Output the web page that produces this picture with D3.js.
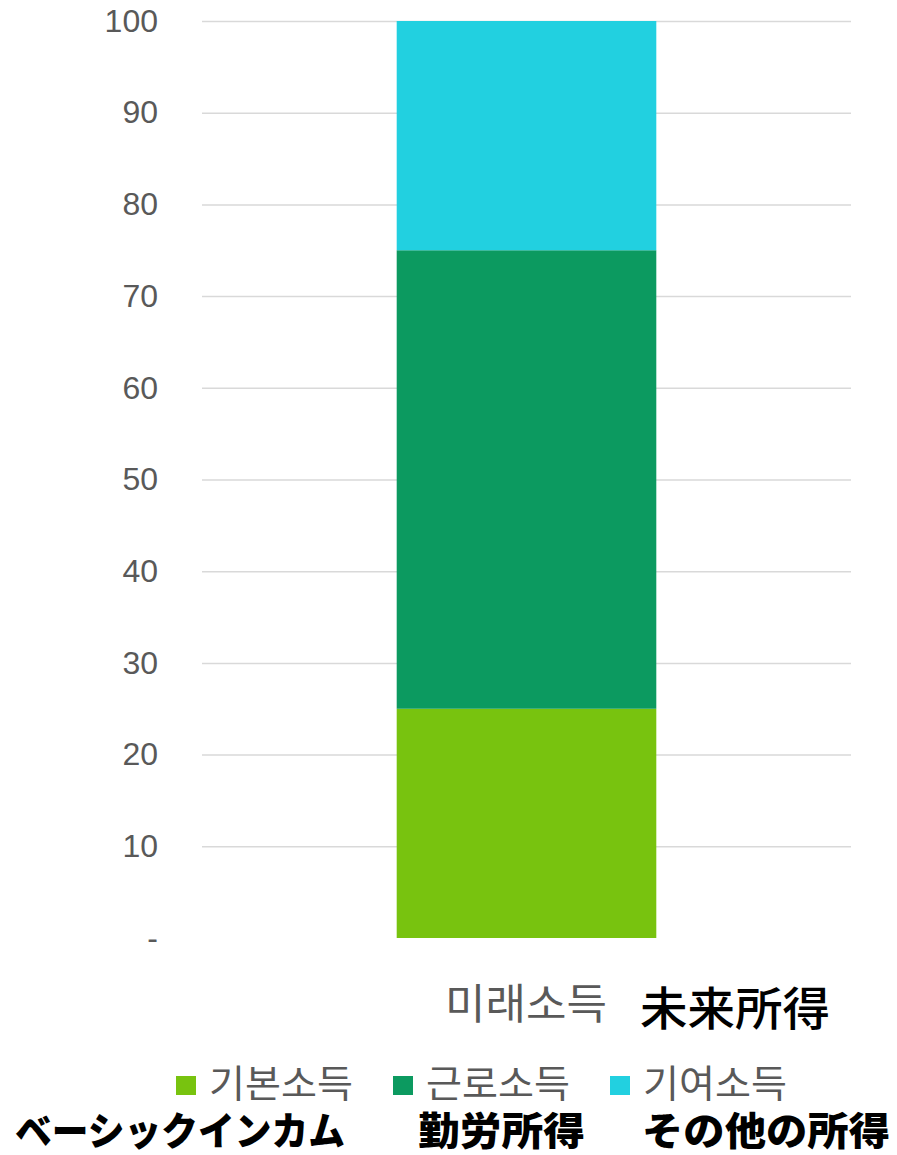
<!DOCTYPE html>
<html><head><meta charset="utf-8">
<script src="https://cdn.jsdelivr.net/npm/d3@7"></script>
<style>body{margin:0;background:#fff}svg{display:block}</style>
</head><body>
<svg id="c" width="897" height="1155"></svg>
<script>
const categories = ["미래소득"];
const categoryJa = ["未来所得"];
const seriesNames = ["기본소득", "근로소득", "기여소득"];
const seriesJa = ["ベーシックインカム", "勤労所得", "その他の所得"];
const seriesColors = ["#78C30F", "#0C9A60", "#22D0E0"];
const basicIncome = [25];
const laborIncome = [50];
const contribIncome = [25];
const yTicks = [0, 10, 20, 30, 40, 50, 60, 70, 80, 90, 100];

const svg = d3.select("#c");
const M = {left: 202, right: 851, top: 21, bottom: 938};
const x = d3.scaleBand().domain(categories).range([M.left, M.right]).paddingInner(0.6).paddingOuter(0.3);
const y = d3.scaleLinear().domain([0, 100]).range([M.bottom, M.top]);

const data = categories.map((c, i) => ({cat: c, s0: basicIncome[i], s1: laborIncome[i], s2: contribIncome[i]}));
const stack = d3.stack().keys(["s0", "s1", "s2"])(data);

// gridlines + tick labels
const yAxis = d3.axisLeft(y).tickValues(yTicks).tickSize(-(M.right - M.left)).tickPadding(44)
  .tickFormat(d => d === 0 ? "-" : d);
const g = svg.append("g").attr("transform", `translate(${M.left},0)`).call(yAxis);
g.select(".domain").remove();
g.selectAll(".tick line").attr("stroke", d => d === 0 ? "none" : "#d9d9d9").attr("stroke-width", 1.5);
g.selectAll(".tick text").attr("fill", "#595959").attr("font-size", 32)
  .attr("font-family", "'Liberation Sans', 'DejaVu Sans', sans-serif");

// bars
svg.append("g").selectAll("g").data(stack).join("g")
  .attr("fill", (d, i) => seriesColors[i])
  .selectAll("rect").data(d => d).join("rect")
  .attr("x", d => x(d.data.cat))
  .attr("width", x.bandwidth())
  .attr("y", d => y(d[1]))
  .attr("height", d => y(d[0]) - y(d[1]));

// category label
categories.forEach((c, i) => {
  svg.append("text").attr("x", 445).attr("y", 1019)
    .attr("fill", "#595959").attr("font-size", 42)
    .attr("textLength", 162).attr("lengthAdjust", "spacingAndGlyphs")
    .attr("font-family", "'Noto Sans CJK KR', sans-serif").text(c);
  svg.append("text").attr("x", 640).attr("y", 1025)
    .attr("fill", "#000").attr("font-size", 46).attr("font-weight", 500)
    .attr("textLength", 190).attr("lengthAdjust", "spacingAndGlyphs")
    .attr("font-family", "'Noto Sans CJK JP', sans-serif").text(categoryJa[i]);
});

// legend
const legX = [176, 393, 610];
seriesNames.forEach((n, i) => {
  svg.append("rect").attr("x", legX[i]).attr("y", 1076).attr("width", 20).attr("height", 19).attr("fill", seriesColors[i]);
  svg.append("text").attr("x", legX[i] + 33).attr("y", 1097)
    .attr("fill", "#595959").attr("font-size", 38)
    .attr("textLength", 144).attr("lengthAdjust", "spacingAndGlyphs")
    .attr("font-family", "'Noto Sans CJK KR', sans-serif").text(n);
});
const jaX = [15, 418, 642];
const jaW = [330, 167, 248];
seriesJa.forEach((n, i) => {
  svg.append("text").attr("x", jaX[i]).attr("y", 1145)
    .attr("fill", "#000").attr("font-size", 39).attr("font-weight", 900)
    .attr("textLength", jaW[i]).attr("lengthAdjust", "spacingAndGlyphs")
    .attr("font-family", "'Noto Sans CJK JP', sans-serif").text(n);
});
</script>
</body></html>
